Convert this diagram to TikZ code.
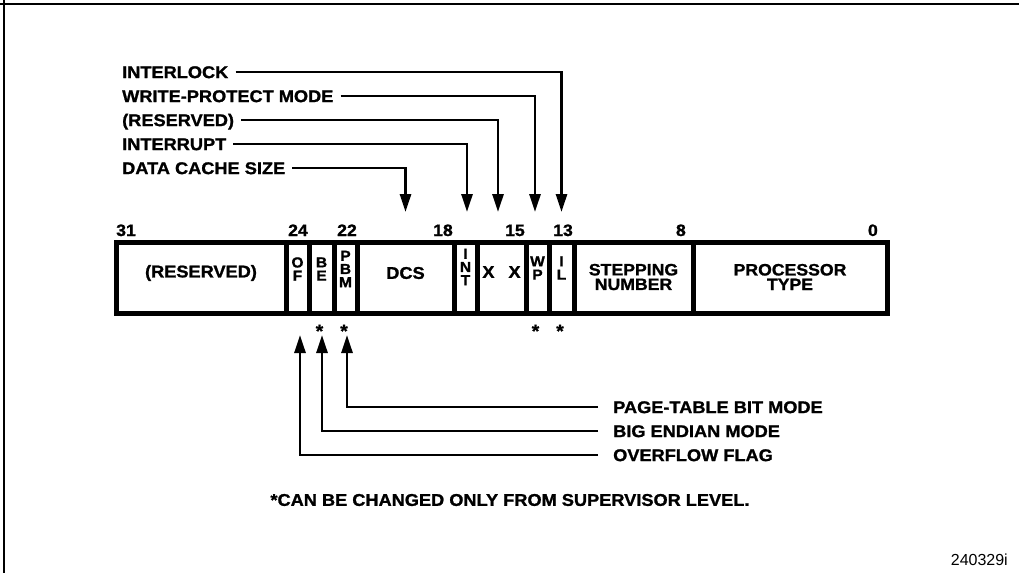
\documentclass[tikz,border=0pt]{standalone}
\usepackage{fontspec}
\setmainfont{Liberation Sans}
\newfontfamily\blk{Liberation Sans}[FakeStretch=1.07, BoldFeatures={FakeBold=1.2}]
\usetikzlibrary{arrows.meta}
\begin{document}
\begin{tikzpicture}[x=1pt,y=-1pt,
  fld/.style={draw, line width=5pt, minimum height=71pt, inner sep=0pt},
  ftxt/.style={font=\blk\bfseries\fontsize{17}{14}\selectfont, align=center, inner sep=0pt},
  ftwo/.style={font=\blk\bfseries\fontsize{16.5}{14.6}\selectfont, align=center, inner sep=0pt},
  stk/.style={font=\blk\bfseries\fontsize{14.5}{13.2}\selectfont, align=center, inner sep=0pt},
  lbl/.style={font=\blk\bfseries\fontsize{17}{20}\selectfont, inner sep=0pt, text height=12.2pt, text depth=0pt},
  bitno/.style={font=\blk\bfseries\fontsize{16.5}{20}\selectfont, inner sep=0pt, anchor=base},
  star/.style={font=\blk\bfseries\fontsize{18}{18}\selectfont, inner sep=0pt},
  arr/.style={line width=2.8pt, -{Triangle[length=18pt,width=11pt]}},
  frame/.style={line width=2.8pt}]
\useasboundingbox (0,0) rectangle (1019,573);
% frame (top and left edges)
\draw[frame] (0,4) -- (1019,4);
\draw[frame] (4,0) -- (4,573);
% register fields
\node[fld, minimum width=170pt] (res)  at (201,278)   {};
\node[fld, minimum width=23pt]  (of)   at (297.5,278) {};
\node[fld, minimum width=25pt]  (be)   at (321.5,278) {};
\node[fld, minimum width=23pt]  (pbm)  at (345.5,278) {};
\node[fld, minimum width=97pt]  (dcs)  at (405.5,278) {};
\node[fld, minimum width=23pt]  (int)  at (465.5,278) {};
\node[fld, minimum width=49pt]  (xx)   at (501.5,278) {};
\node[fld, minimum width=23pt]  (wp)   at (537.5,278) {};
\node[fld, minimum width=25pt]  (il)   at (561.5,278) {};
\node[fld, minimum width=119pt] (step) at (633.5,278) {};
\node[fld, minimum width=194pt] (proc) at (790,278)   {};
% field texts
\node[ftxt] (tres)  at ([yshift=5pt]res.center)  {(RESERVED)};
\node[stk]  (tof)   at ([yshift=9pt]of.center)   {O\\F};
\node[stk]  (tbe)   at ([yshift=9pt]be.center)   {B\\E};
\node[stk]  (tpbm)  at ([yshift=9pt]pbm.center)  {P\\B\\M};
\node[ftxt] (tdcs)  at ([yshift=5pt]dcs.center)  {DCS};
\node[stk]  (tint)  at ([yshift=11pt]int.center) {I\\N\\T};
\node[ftxt] (txx)   at ([yshift=6pt]xx.center)   {X\hspace{14pt}X};
\node[stk]  (twp)   at ([yshift=10pt]wp.center)  {W\\P};
\node[stk]  (til)   at ([yshift=10pt]il.center)  {I\\L};
\node[ftwo] (tstep) at ([yshift=1pt]step.center) {STEPPING\\NUMBER};
\node[ftwo] (tproc) at ([yshift=1pt]proc.center) {PROCESSOR\\TYPE};
% bit numbers
\node[bitno, anchor=base west] (n31) at (116,236) {31};
\node[bitno] (n24) at (298,236) {24};
\node[bitno] (n22) at (347,236) {22};
\node[bitno, anchor=base east] (n18) at (453,236) {18};
\node[bitno, anchor=base east] (n15) at (525,236) {15};
\node[bitno] (n13) at (563,236) {13};
\node[bitno, anchor=base east] (n8) at (686,236) {8};
\node[bitno, anchor=base east] (n0) at (878,236) {0};
% supervisor stars
\node[star] (s1) at (319.5,331) {*};
\node[star] (s2) at (344,331) {*};
\node[star] (s3) at (535.5,331) {*};
\node[star] (s4) at (560,331) {*};
% top labels
\node[lbl, anchor=west] (linter) at (122,72)  {INTERLOCK};
\node[lbl, anchor=west] (lwpm)   at (122,96)  {WRITE-PROTECT MODE};
\node[lbl, anchor=west] (lres)   at (122,120) {(RESERVED)};
\node[lbl, anchor=west] (lint)   at (122,144) {INTERRUPT};
\node[lbl, anchor=west] (ldcs)   at (122,168) {DATA CACHE SIZE};
\draw[arr, shorten <=7pt, shorten >=28pt] (linter.east) -| (il.north);
\draw[arr, shorten <=7pt, shorten >=28pt] (lwpm.east) -| ([xshift=-2.5pt]wp.north);
\draw[arr, shorten <=7pt, shorten >=28pt] (lres.east) -| ([xshift=-3.5pt]xx.north);
\draw[arr, shorten <=7pt, shorten >=28pt] (lint.east) -| ([xshift=1.5pt]int.north);
\draw[arr, shorten <=7pt, shorten >=28pt] (ldcs.east) -| (dcs.north);
% bottom labels
\node[lbl, anchor=west] (lpbm) at (613,407) {PAGE-TABLE BIT MODE};
\node[lbl, anchor=west] (lbe)  at (613,431) {BIG ENDIAN MODE};
\node[lbl, anchor=west] (lof)  at (613,455) {OVERFLOW FLAG};
\draw[arr, shorten <=15pt, shorten >=19pt] (lpbm.west) -| ([xshift=1.5pt]pbm.south);
\draw[arr, shorten <=15pt, shorten >=19pt] (lbe.west) -| ([xshift=0.5pt]be.south);
\draw[arr, shorten <=15pt, shorten >=19pt] (lof.west) -| ([xshift=2.5pt]of.south);
% footnote and figure number
\node[font=\blk\bfseries\fontsize{17}{20}\selectfont, inner sep=0pt] (note) at (510,500) {*CAN BE CHANGED ONLY FROM SUPERVISOR LEVEL.};
\node[font=\fontsize{16}{18}\selectfont, inner sep=0pt, anchor=base east] (fig) at (1008,565) {240329i};
\end{tikzpicture}
\end{document}
